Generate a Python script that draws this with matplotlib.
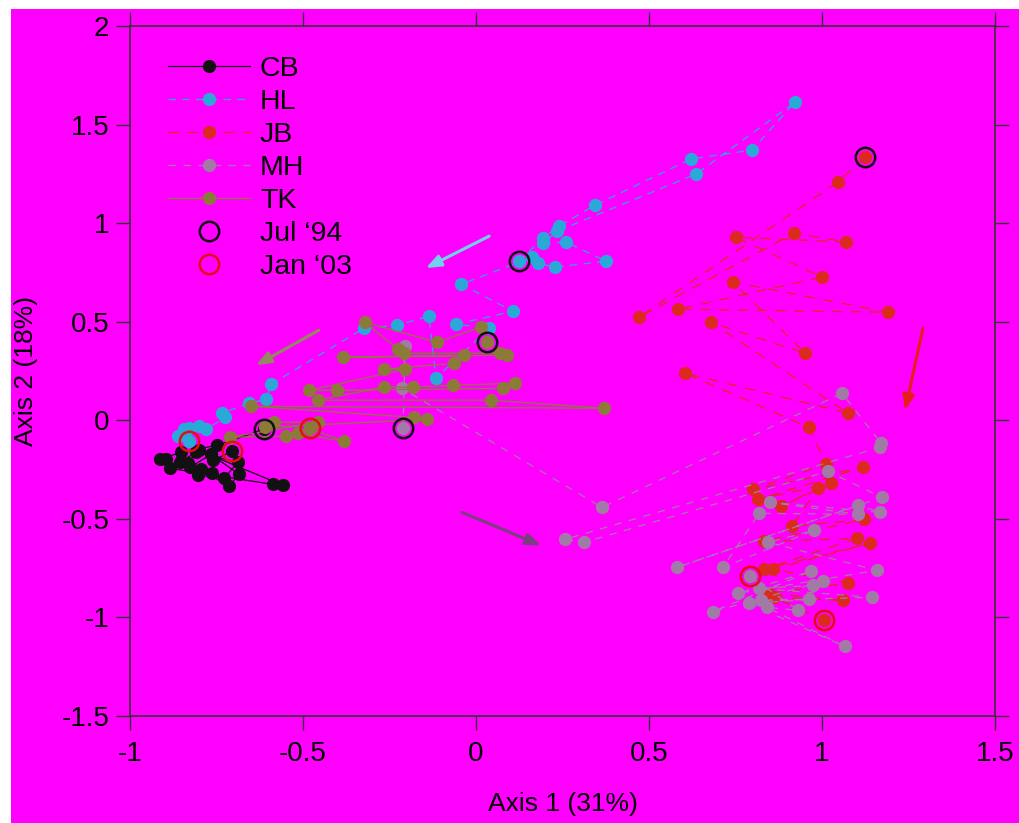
import matplotlib
matplotlib.use('Agg')
import matplotlib.pyplot as plt
from matplotlib.patches import Rectangle
from matplotlib.lines import Line2D
import numpy as np

plt.rcParams['font.family'] = ['Liberation Sans', 'DejaVu Sans']

#---------------------data------------------------------------------------------
cb_x = [-0.613, -0.749, -0.853, -0.913, -0.896, -0.884, -0.587, -0.558, -0.801, -0.855, -0.803,
        -0.728, -0.688, -0.809, -0.832, -0.795, -0.714, -0.685, -0.766, -0.827, -0.763, -0.760, -0.705]
cb_y = [-0.046, -0.127, -0.162, -0.198, -0.198, -0.244, -0.325, -0.330, -0.152, -0.213, -0.279,
        -0.294, -0.213, -0.162, -0.218, -0.249, -0.335, -0.274, -0.173, -0.239, -0.269, -0.203, -0.157]

hl_x = [0.124, 0.194, 0.240, 0.344, 0.621, 0.798, 0.922, 0.636, 0.234, 0.194, 0.260, 0.376,
        0.228, 0.179, 0.162, -0.043, 0.107, -0.058, 0.038, -0.116, -0.136, -0.228, -0.324,
        -0.592, -0.607, -0.656, -0.734, -0.725, -0.780, -0.801, -0.844, -0.861, -0.829, -0.829]
hl_y = [0.807, 0.924, 0.985, 1.091, 1.325, 1.371, 1.614, 1.249, 0.959, 0.898, 0.904, 0.807,
        0.777, 0.797, 0.827, 0.690, 0.553, 0.487, 0.467, 0.213, 0.528, 0.482, 0.467,
        0.183, 0.107, 0.086, 0.036, 0.015, -0.046, -0.030, -0.046, -0.081, -0.041, -0.107]

jb_x = [1.124, 1.046, 0.471, 0.919, 1.069, 0.751, 1.000, 0.584, 1.191, 0.743, 0.951, 0.679,
        1.075, 0.604, 0.962, 1.012, 0.801, 1.118, 0.815, 1.026, 0.882, 0.988, 0.913, 1.121,
        0.832, 1.101, 0.832, 1.139, 0.858, 1.075, 0.844, 1.061, 0.861, 1.006]
jb_y = [1.335, 1.208, 0.523, 0.949, 0.904, 0.929, 0.726, 0.563, 0.548, 0.701, 0.340, 0.497,
        0.036, 0.239, -0.036, -0.223, -0.350, -0.239, -0.401, -0.320, -0.437, -0.345, -0.538, -0.503,
        -0.614, -0.599, -0.756, -0.624, -0.756, -0.827, -0.878, -0.914, -0.898, -1.015]

mh_x = [-0.211, -0.205, -0.214, 0.364, 1.058, 1.171, 1.168, 0.257, 0.312, 1.017, 1.173, 0.581,
        1.104, 1.168, 0.850, 1.104, 0.818, 0.714, 0.977, 0.844, 1.159, 0.757, 0.968, 0.685,
        1.003, 0.974, 0.818, 1.145, 0.824, 0.962, 0.789, 1.066, 0.841, 0.931, 0.792]
mh_y = [-0.041, 0.376, 0.162, -0.442, 0.137, -0.117, -0.137, -0.604, -0.619, -0.259, -0.391, -0.746,
        -0.431, -0.467, -0.416, -0.477, -0.472, -0.746, -0.558, -0.619, -0.761, -0.878, -0.766, -0.970,
        -0.817, -0.838, -0.853, -0.898, -0.914, -0.909, -0.929, -1.147, -0.949, -0.964, -0.792]

tk_x = [0.032, 0.014, -0.113, -0.321, -0.225, -0.208, 0.069, 0.090, -0.384, -0.035, -0.064,
        -0.266, -0.205, -0.483, -0.402, 0.078, 0.113, -0.066, -0.182, -0.266, -0.457, 0.043,
        0.370, -0.650, -0.179, -0.142, -0.610, -0.584, -0.457, -0.711, -0.549, -0.514, -0.382, -0.480]
tk_y = [0.396, 0.472, 0.396, 0.497, 0.360, 0.340, 0.340, 0.330, 0.320, 0.330, 0.289,
        0.259, 0.259, 0.152, 0.152, 0.162, 0.188, 0.178, 0.168, 0.168, 0.102, 0.102,
        0.061, 0.071, 0.015, 0.005, -0.036, -0.010, -0.010, -0.086, -0.081, -0.066, -0.107, -0.041]

# trend arrows: (x_start, y_start, x_end, y_end)
arrows = {'HL': (0.038, 0.934, -0.145, 0.772),
          'TK': (-0.454, 0.457, -0.636, 0.279),
          'MH': (-0.040, -0.467, 0.188, -0.635),
          'JB': (1.292, 0.467, 1.240, 0.051)}

magenta = '#ff00ff'
cols = {'CB': '#111111', 'HL': '#2aa9d9', 'JB': '#dc2a1e', 'MH': '#a27aa6', 'TK': '#8c7a38'}
arrow_cols = {'HL': '#70d2ea', 'TK': '#918a60', 'MH': '#7b3f80', 'JB': '#e3201a'}

fig = plt.figure(figsize=(10.2, 8.23), dpi=100)
fig.patch.set_facecolor('white')
fig.patches.append(Rectangle((11/1020, 0), 1, 1 - 9/823, transform=fig.transFigure,
                             facecolor=magenta, edgecolor='none', zorder=-10))
ax = fig.add_axes([130/1020, 1 - 716/823, 865/1020, 690/823])
ax.set_facecolor(magenta)

ms = 8.5
series = [('CB', cb_x, cb_y, '-'), ('HL', hl_x, hl_y, (0, (6, 5))), ('JB', jb_x, jb_y, (0, (8, 7))),
          ('MH', mh_x, mh_y, (0, (6, 6))), ('TK', tk_x, tk_y, '-')]
for name, xs, ys, ls in series:
    ax.plot(xs, ys, linestyle=ls, color=cols[name], lw=0.9, marker='o', ms=ms,
            mfc=cols[name], mec=cols[name], label=name)

# first and last samples
for name, xs, ys, ls in series:
    ax.plot(xs[0], ys[0], 'o', ms=14, mfc='none', mec='#111111', mew=1.8)
    ax.plot(xs[-1], ys[-1], 'o', ms=14, mfc='none', mec='#e01010', mew=1.8)

for k, (x0, y0, x1, y1) in arrows.items():
    ax.annotate('', xy=(x1, y1), xytext=(x0, y0),
                arrowprops=dict(arrowstyle='-|>,head_length=0.9,head_width=0.35',
                                color=arrow_cols[k], lw=2.2, shrinkA=0, shrinkB=0))

ax.set_xlim(-1, 1.5)
ax.set_ylim(-1.5, 2)
ax.set_xticks([-1, -0.5, 0, 0.5, 1, 1.5])
ax.set_xticklabels(['-1', '-0.5', '0', '0.5', '1', '1.5'])
ax.set_yticks([-1.5, -1, -0.5, 0, 0.5, 1, 1.5, 2])
ax.set_yticklabels(['-1.5', '-1', '-0.5', '0', '0.5', '1', '1.5', '2'])
ax.tick_params(direction='out', length=10, width=1, colors='#333333', labelcolor='black',
               top=True, right=True, labelsize=20)
ax.tick_params(axis='x', pad=8)
ax.tick_params(axis='y', pad=5)
for s in ax.spines.values():
    s.set_color('#333333')
    s.set_linewidth(1.2)

ax.set_xlabel('Axis 1 (31%)', fontsize=19, labelpad=18)
ax.set_ylabel('Axis 2 (18%)', fontsize=19, labelpad=17)

handles = [Line2D([], [], color=cols[n], linestyle=ls, lw=0.9, marker='o', ms=ms, mfc=cols[n], mec=cols[n])
           for n, xs, ys, ls in series]
handles.append(Line2D([], [], linestyle='none', marker='o', ms=14, mfc='none', mec='#111111', mew=1.8))
handles.append(Line2D([], [], linestyle='none', marker='o', ms=14, mfc='none', mec='#e01010', mew=1.8))
labels = ['CB', 'HL', 'JB', 'MH', 'TK', 'Jul \u201894', 'Jan \u201803']
ax.legend(handles, labels, loc='upper left', bbox_to_anchor=(38/865, 1 - 30/690), frameon=False,
          fontsize=20.5, handlelength=2.88, handletextpad=0.35, labelspacing=0.245, borderpad=0,
          borderaxespad=0)

plt.savefig('out.png', dpi=100, facecolor=fig.get_facecolor())
